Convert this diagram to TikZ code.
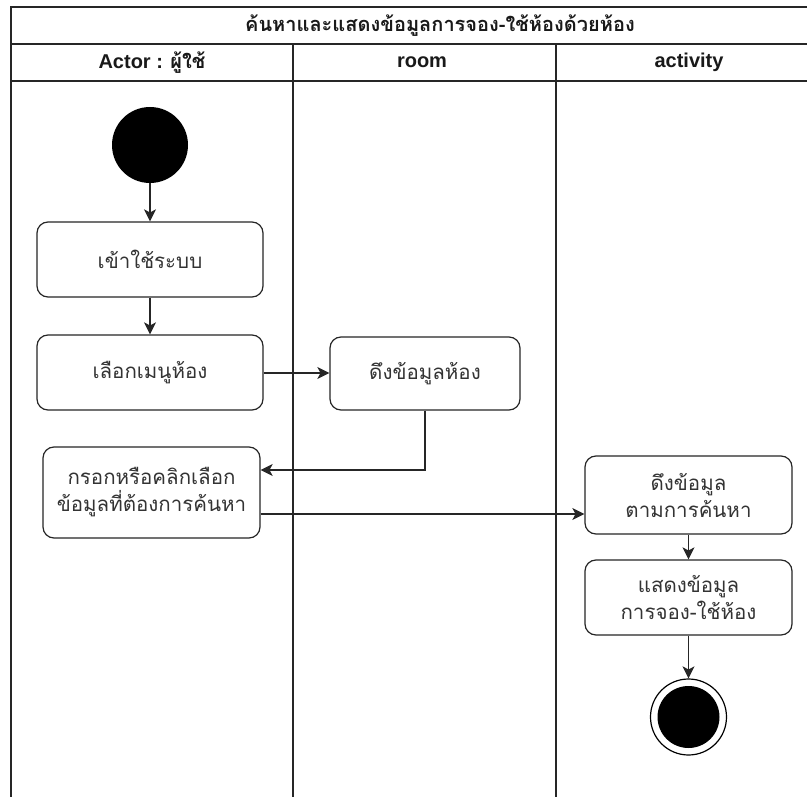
\documentclass[tikz,border=0pt]{standalone}
\usepackage{fontspec}
\setmainfont{Liberation Sans}
\newfontfamily\thai[Script=Thai]{Loma}
\usetikzlibrary{arrows.meta}
\tikzset{
  x=1pt, y=1pt,
  lane/.style={line width=1.3pt, draw=black!85},
  actbox/.style={draw=black!85, line width=1.2pt, rounded corners=11pt, align=center,
    inner sep=0pt, font=\thai\fontsize{20.5}{27}\selectfont, text=black!80},
  flow/.style={line width=1.2pt, draw=black!85, -{Stealth[length=12pt,width=12pt,inset=3pt]}},
  hdr/.style={font=\bfseries\fontsize{20}{24}\selectfont, inner sep=0pt, text=black!90},
}
\begin{document}
\begin{tikzpicture}
\useasboundingbox (0,0) rectangle (807,-797);
\fill[white] (0,0) rectangle (807,-797);
\begin{scope}
\clip (0,0) rectangle (807,-797);
% pool and lanes
\draw[lane] (11,-800) -- (11,-7) -- (830,-7);
\draw[lane] (11,-44) -- (830,-44);
\draw[lane] (11,-81) -- (830,-81);
\draw[lane] (293,-44) -- (293,-800);
\draw[lane] (556,-44) -- (556,-800);
\node[hdr] (title) at (440,-25.5) {\thai ค้นหาและแสดงข้อมูลการจอง-ใช้ห้องด้วยห้อง};
\node[hdr] (h1) at (152,-62.5) {Actor : {\thai ผู้ใช้}};
\node[hdr] (h2) at (422,-62.5) {room};
\node[hdr] (h3) at (689,-62.5) {activity};

% nodes
\node[circle, fill=black, minimum size=76pt, inner sep=0pt] (start) at (150,-145) {};
\node[actbox, minimum width=226pt, minimum height=75pt] (n1) at (150,-259.5) {เข้าใช้ระบบ};
\node[actbox, minimum width=226pt, minimum height=75pt] (n2) at (150,-372.5) {เลือกเมนูห้อง};
\node[actbox, minimum width=190pt, minimum height=73pt] (n3) at (425,-373.5) {ดึงข้อมูลห้อง};
\node[actbox, minimum width=217pt, minimum height=91pt] (n4) at (151.5,-492.5) {กรอกหรือคลิกเลือก\\ข้อมูลที่ต้องการค้นหา};
\node[actbox, minimum width=207pt, minimum height=78pt] (n5) at (688.5,-495) {ดึงข้อมูล\\ตามการค้นหา};
\node[actbox, minimum width=207pt, minimum height=75pt] (n6) at (688.5,-597.5) {แสดงข้อมูล\\การจอง-ใช้ห้อง};
\node[circle, draw=black, line width=1.2pt, minimum size=76pt, inner sep=0pt] (end) at (688.5,-717) {};
\fill[black] (end.center) circle (31pt);

% flows
\draw[flow] (start) -- (n1);
\draw[flow] (n1) -- (n2);
\draw[flow] ([yshift=-0.5pt]n2.east) -- ([yshift=-0.5pt]n2.east -| n3.west);
\draw[flow] (n3.south) |- ([yshift=22.5pt]n4.east);
\draw[flow] ([yshift=-21.5pt]n4.east) -- ([yshift=-21.5pt]n4.east -| n5.west);
\draw[flow] (n5) -- (n6);
\draw[flow] (n6) -- (end);
\end{scope}
\end{tikzpicture}
\end{document}
